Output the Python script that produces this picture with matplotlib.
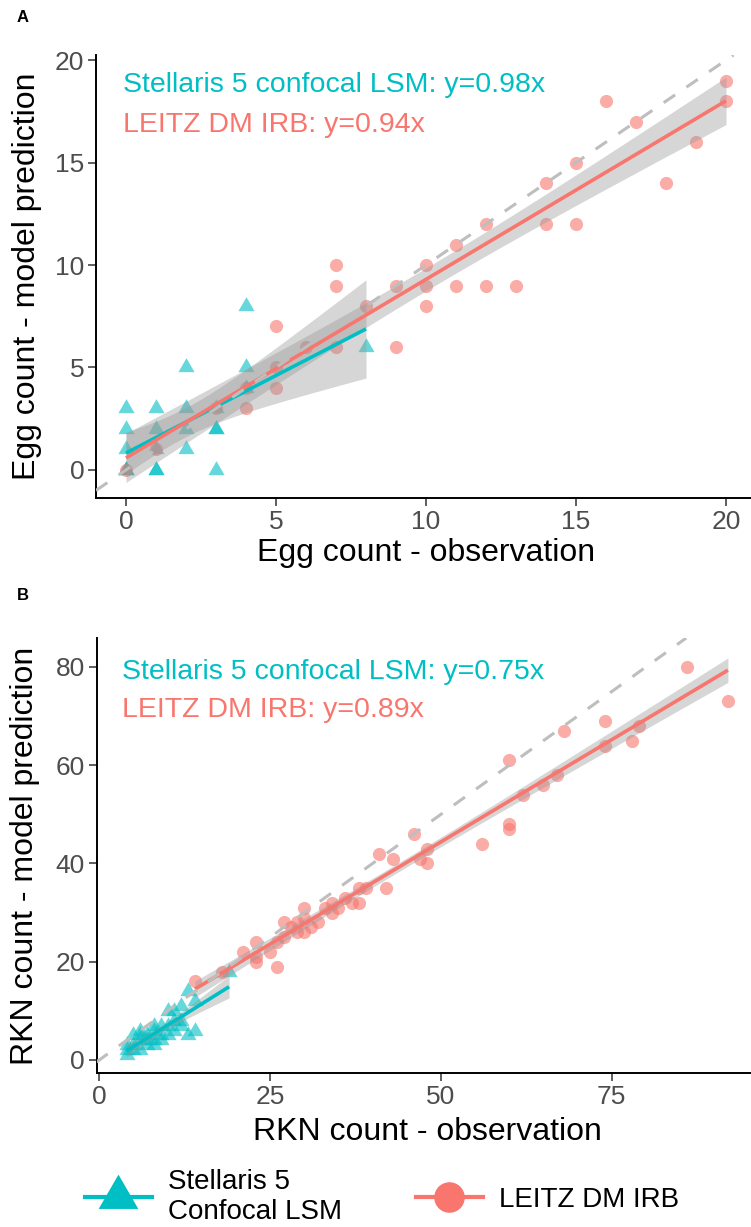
#!/usr/bin/env python3
"""Observed vs. model-predicted counts (eggs, RKN) for two microscopes."""

import numpy as np
import matplotlib

matplotlib.use("Agg")
import matplotlib.pyplot as plt
from matplotlib.lines import Line2D
from matplotlib.path import Path

TEAL = "#00BFC4"
SALMON = "#F8766D"

# Panel A: egg counts
egg_stel_obs = [0, 0, 0, 0, 0, 0, 1, 1, 1, 1, 1, 2, 2, 2, 2, 3, 3, 3, 3, 4, 4, 4, 8]
egg_stel_pred = [3, 2, 1, 0, 0, 0, 3, 2, 1, 0, 0, 5, 3, 2, 1, 3, 2, 2, 0, 8, 5, 4, 6]
egg_leitz_obs = [0, 1, 3, 4, 4, 5, 5, 5, 6, 7, 7, 7, 8, 9, 9, 10, 10, 10, 11, 11, 12, 12,
                 13, 14, 14, 15, 15, 16, 17, 18, 19, 20, 20]
egg_leitz_pred = [0, 1, 3, 3, 4, 7, 5, 4, 6, 10, 9, 6, 8, 9, 6, 10, 9, 8, 11, 9, 12, 9,
                  9, 14, 12, 15, 12, 18, 17, 14, 16, 19, 18]

# Panel B: RKN counts
rkn_stel_obs = [4, 4, 4, 5, 5, 5, 6, 6, 6, 6, 7, 7, 7, 8, 8, 8, 8, 9, 9, 9, 10, 10, 10,
                11, 11, 11, 12, 12, 12, 13, 13, 14, 14, 19]
rkn_stel_pred = [1, 2, 3, 2, 3, 5, 2, 4, 5, 6, 3, 4, 5, 3, 4, 6, 7, 4, 5, 7, 5, 7, 10,
                 6, 8, 10, 7, 8, 11, 5, 14, 6, 12, 18]
rkn_leitz_obs = [14, 18, 21, 23, 23, 23, 25, 26, 26, 27, 27, 28, 29, 29, 30, 30, 30, 31,
                 32, 33, 34, 34, 35, 36, 37, 38, 38, 39, 41, 42, 43, 46, 47, 48, 48, 56,
                 60, 60, 60, 62, 65, 67, 68, 74, 74, 78, 79, 86, 92]
rkn_leitz_pred = [16, 18, 22, 24, 21, 20, 22, 19, 24, 25, 28, 27, 28, 26, 31, 26, 29, 27,
                  28, 31, 32, 30, 31, 33, 32, 32, 35, 35, 42, 35, 41, 46, 41, 43, 40, 44,
                  61, 48, 47, 54, 56, 58, 67, 69, 64, 65, 68, 80, 73]

egg_labels = ["Stellaris 5 confocal LSM: y=0.98x", "LEITZ DM IRB: y=0.94x"]
rkn_labels = ["Stellaris 5 confocal LSM: y=0.75x", "LEITZ DM IRB: y=0.89x"]
legend_labels = ["Stellaris 5\nConfocal LSM", "LEITZ DM IRB"]

# equilateral triangle, centred on its centroid (ggplot shape 17)
TRI = Path([(0, 1.0), (-0.866, -0.5), (0.866, -0.5), (0, 1.0)],
           [Path.MOVETO, Path.LINETO, Path.LINETO, Path.CLOSEPOLY])

plt.rcParams["font.family"] = ["Liberation Sans", "DejaVu Sans"]


def t_quantile(dof, z=1.959964):
    # Cornish-Fisher expansion, good enough for a 95% band
    return (z + (z**3 + z) / (4 * dof)
            + (5 * z**5 + 16 * z**3 + 3 * z) / (96 * dof**2))


def smooth_lm(ax, x, y, color):
    x = np.asarray(x, float)
    y = np.asarray(y, float)
    b, a = np.polyfit(x, y, 1)
    xs = np.linspace(x.min(), x.max(), 100)
    fit = a + b * xs
    resid = y - (a + b * x)
    dof = len(x) - 2
    s = np.sqrt(resid @ resid / dof)
    se = s * np.sqrt(1 / len(x) + (xs - x.mean())**2 / ((x - x.mean())**2).sum())
    t = t_quantile(dof)
    ax.fill_between(xs, fit - t * se, fit + t * se, color="#999999", alpha=0.4,
                    lw=0, zorder=3)
    ax.plot(xs, fit, color=color, lw=2.6, zorder=4, solid_capstyle="butt")


def panel(ax, stel, leitz, labels, xlim, ylim, ticks_x, ticks_y, text_x, text_y,
          xlabel, ylabel):
    ax.scatter(stel[0], stel[1], marker=TRI, s=180, color=TEAL, alpha=0.6, lw=0, zorder=2)
    ax.scatter(leitz[0], leitz[1], marker="o", s=90, color=SALMON, alpha=0.6, lw=0,
               zorder=2)
    smooth_lm(ax, stel[0], stel[1], TEAL)
    smooth_lm(ax, leitz[0], leitz[1], SALMON)
    ax.axline((0, 0), slope=1, color="#BEBEBE", lw=2.2, dashes=(4.5, 4.5), zorder=5)

    ax.text(text_x, text_y[0], labels[0], color=TEAL, fontsize=20.5, va="center")
    ax.text(text_x, text_y[1], labels[1], color=SALMON, fontsize=20.5, va="center")

    ax.set_xlim(*xlim)
    ax.set_ylim(*ylim)
    ax.set_xticks(ticks_x)
    ax.set_yticks(ticks_y)
    ax.tick_params(labelsize=19, labelcolor="#4D4D4D", color="#333333", length=5.5,
                   width=1.1, pad=3)
    for side in ("top", "right"):
        ax.spines[side].set_visible(False)
    for side in ("left", "bottom"):
        ax.spines[side].set_linewidth(1.4)
    ax.set_xlabel(xlabel, fontsize=23, va="center")
    ax.set_ylabel(ylabel, fontsize=23, va="center")


def main():
    W, H = 751, 1227
    fig = plt.figure(figsize=(W / 100, H / 100), dpi=100)

    def px_axes(left, right, top, bottom):
        return fig.add_axes([left / W, 1 - bottom / H, (right - left) / W, (bottom - top) / H])

    ax_a = px_axes(96, 756, 55, 498)
    panel(ax_a, (egg_stel_obs, egg_stel_pred), (egg_leitz_obs, egg_leitz_pred),
          egg_labels, (-1, 21), (-1.37, 20.25), [0, 5, 10, 15, 20], [0, 5, 10, 15, 20],
          -0.1, (18.8, 16.85), "Egg count - observation", "Egg count - model prediction")
    ax_a.xaxis.set_label_coords(0.5, -0.124)
    ax_a.yaxis.set_label_coords(-0.105, 0.5)

    ax_b = px_axes(96.5, 758, 638, 1073)
    panel(ax_b, (rkn_stel_obs, rkn_stel_pred), (rkn_leitz_obs, rkn_leitz_pred),
          rkn_labels, (-0.4, 96.4), (-2.65, 85.9), [0, 25, 50, 75], [0, 20, 40, 60, 80],
          3.3, (79.0, 71.2), "RKN count - observation", "RKN count - model prediction")
    ax_b.xaxis.set_label_coords(0.5, -0.136)
    ax_b.yaxis.set_label_coords(-0.108, 0.5)

    fig.text(17 / W, 1 - 18 / H, "A", fontsize=12, fontweight="bold", ha="left", va="center")
    fig.text(17 / W, 1 - 596 / H, "B", fontsize=12, fontweight="bold", ha="left", va="center")

    handles = [
        Line2D([], [], color=TEAL, lw=3, marker=TRI, markersize=33, markeredgewidth=0),
        Line2D([], [], color=SALMON, lw=3, marker="o", markersize=22, markeredgewidth=0),
    ]
    fig.legend(handles, legend_labels, loc="center", bbox_to_anchor=(0.509, 1 - 1197 / H),
               ncol=2, frameon=False, fontsize=20, handlelength=2.4, handletextpad=0.6,
               columnspacing=2.65, borderaxespad=0)

    fig.savefig("out.png", dpi=100)


if __name__ == "__main__":
    main()
